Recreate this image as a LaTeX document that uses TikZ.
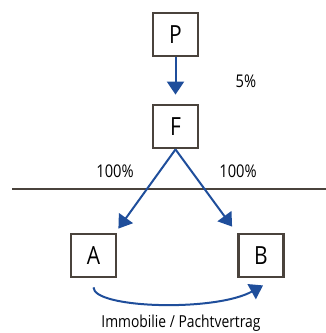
\documentclass[tikz,border=0pt]{standalone}
\usepackage{fontspec}
\setmainfont{Open Sans}[FakeStretch=0.84]
\usetikzlibrary{arrows.meta}
\definecolor{boxline}{HTML}{4A433C}
\definecolor{flow}{HTML}{1F4E9B}
\tikzset{
  entity/.style={draw=boxline, line width=2.8pt, minimum width=45pt, minimum height=43pt,
                 inner sep=0pt, font=\fontsize{25}{28}\selectfont},
  pct/.style={font=\fontsize{17.5}{20}\selectfont, inner sep=0pt},
  link/.style={draw=flow, line width=2pt, -{Triangle[length=13pt,width=17pt]}},
  border/.style={draw=boxline, line width=2pt}
}
\begin{document}
\begin{tikzpicture}[x=1pt,y=-1pt]
  \useasboundingbox (0,0) rectangle (326,333);
  % entities
  \node[entity] (P) at (175.5,34.5) {P};
  \node[entity] (F) at (175.5,126.5) {F};
  \node[entity] (A) at (93.5,255.5) {A};
  \node[entity] (B) at (261,255.5) {B};
  % shareholdings
  \node[pct] (p5) at (246,81) {5\%};
  \node[pct] (pl) at (115,171) {100\%};
  \node[pct] (pr) at (238,171) {100\%};
  % border line
  \coordinate (l1) at (12,189);
  \coordinate (l2) at (326,189);
  \draw[border] (l1) -- (l2);
  % ownership arrows
  \draw[link] (P.south) -- ([shift={(0,-9)}]F.north);
  \draw[link] (F.south) -- ([shift={(1,-4)}]A.north east);
  \draw[link] (F.south) -- ([shift={(-5,-6)}]B.north west);
  % lease between A and B
  \coordinate (s) at ([shift={(0,9)}]A.south);
  \coordinate (e) at ([shift={(2,7)}]B.south);
  \draw[link] (s) .. controls ([shift={(0,21)}]s) and (215,312) .. (e);
  \node[pct, font=\fontsize{16.5}{19}\selectfont] (lbl) at (181,323) {Immobilie / Pachtvertrag};
\end{tikzpicture}
\end{document}
